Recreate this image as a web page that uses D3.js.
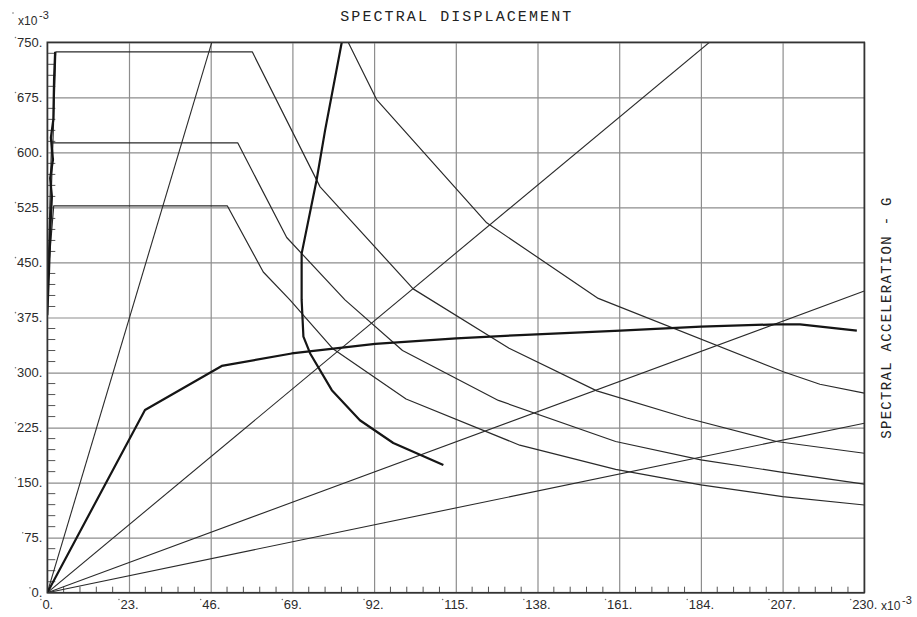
<!DOCTYPE html>
<html>
<head>
<meta charset="utf-8">
<script src="https://cdn.jsdelivr.net/npm/d3@7"></script>
<style>
  html, body { margin: 0; padding: 0; background: #fff; }
  svg { display: block; }
</style>
</head>
<body>
<div id="chart"></div>
<script>
// ── Data (units x10^-3) ──────────────────────────────────────────────────────

const xTicks = [0, 23, 46, 69, 92, 115, 138, 161, 184, 207, 230];
const yTicks = [0, 75, 150, 225, 300, 375, 450, 525, 600, 675, 750];

// constant-period lines, all from the origin to these ends
const periodEnds = [[46.3, 750], [186.4, 750], [230, 411], [230, 231]];

// demand spectra (thin)
const spectrumA = [[0, 378], [2.4, 737], [57.7, 737], [76.8, 553], [103, 414], [130, 333],
  [154.7, 275], [180, 238], [205.3, 206], [230, 190]];
const spectrumB = [[84.7, 750], [92.7, 672], [123.7, 504], [155.1, 401], [207.2, 301],
  [217.5, 284], [230, 272]];
const spectrumC = [[0, 400], [1.2, 613], [53.6, 613], [67.4, 484], [83.8, 399], [100, 330],
  [127, 262], [160, 206], [184, 181], [207, 164], [230, 148]];
const spectrumD = [[0, 420], [1.8, 527], [50.7, 527], [60.8, 437], [68.3, 399], [80.5, 332],
  [101, 264], [133, 201], [160, 168], [184, 147], [207, 131], [230, 119.5]];

// heavy curves
const capacityCurve = [[0, 0], [27.5, 249], [49.1, 309], [68.8, 326], [92.3, 339], [115.1, 346.6],
  [133, 351], [161.3, 357], [184, 362.5], [205.3, 365.7], [211.9, 365.7], [227.9, 357]];
const traceCurve = [[82.9, 750], [78.2, 630], [75.8, 562], [71.6, 462], [71.6, 399], [72.1, 349],
  [74, 326], [80.1, 276], [88, 235], [97.4, 204], [111.5, 174]];
const edgeCurve = [[0, 378], [0.5, 440], [0.9, 500], [1.3, 540], [0.8, 565], [1.6, 590],
  [1.0, 620], [1.7, 645], [1.9, 700], [2.2, 737]];

// ── Chart ────────────────────────────────────────────────────────────────────

const width = 917;
const height = 617;
const plot = { left: 47.3, right: 864.3, top: 42.3, bottom: 592.7 };
const labelFont = "'Liberation Sans', Arial, sans-serif";
const plotterFont = "'Liberation Mono', 'DejaVu Sans Mono', monospace";

const svg = d3.select("#chart").append("svg")
  .attr("width", width).attr("height", height);

const x = d3.scaleLinear().domain([0, 230]).range([plot.left, plot.right]);
const y = d3.scaleLinear().domain([0, 750]).range([plot.bottom, plot.top]);

const gridColor = "#8d8d8d";

// Grid + tick labels.
const xAxis = svg.append("g")
  .attr("transform", `translate(0,${plot.bottom})`)
  .call(d3.axisBottom(x).tickValues(xTicks).tickSize(-(plot.bottom - plot.top))
    .tickPadding(7).tickFormat((d) => d + "."));

const yAxis = svg.append("g")
  .attr("transform", `translate(${plot.left},0)`)
  .call(d3.axisLeft(y).tickValues(yTicks).tickSize(-(plot.right - plot.left))
    .tickPadding(5).tickFormat((d) => d + "."));

for (const ax of [xAxis, yAxis]) {
  ax.select(".domain").remove();
  ax.selectAll(".tick line").attr("stroke", gridColor).attr("stroke-width", 1.2);
  ax.selectAll(".tick text")
    .attr("fill", "#2b2b2b")
    .attr("font-size", "13px")
    .attr("font-family", labelFont);
  // little plotter dot in front of every label
  ax.selectAll(".tick text").each(function () {
    const b = this.getBBox();
    d3.select(this.parentNode).append("circle")
      .attr("cx", b.x - 1.5).attr("cy", b.y + 2.5).attr("r", 0.8).attr("fill", "#777");
  });
}

// Minor ticks (4 between each grid line).
const minor = svg.append("g").attr("stroke", "#555").attr("stroke-width", 1);
for (let i = 0; i < xTicks.length - 1; i++) {
  const step = (xTicks[i + 1] - xTicks[i]) / 5;
  for (let k = 1; k < 5; k++) {
    const v = xTicks[i] + k * step;
    minor.append("line")
      .attr("x1", x(v)).attr("x2", x(v))
      .attr("y1", plot.bottom).attr("y2", plot.bottom - 6);
  }
}
for (let i = 0; i < yTicks.length - 1; i++) {
  const step = (yTicks[i + 1] - yTicks[i]) / 5;
  for (let k = 1; k < 5; k++) {
    const v = yTicks[i] + k * step;
    minor.append("line")
      .attr("x1", plot.left).attr("x2", plot.left + 8)
      .attr("y1", y(v)).attr("y2", y(v));
  }
}

// Curves, clipped to the frame.
svg.append("clipPath").attr("id", "plot-clip")
  .append("rect")
  .attr("x", plot.left).attr("y", plot.top)
  .attr("width", plot.right - plot.left).attr("height", plot.bottom - plot.top);

const curves = svg.append("g").attr("clip-path", "url(#plot-clip)");
const line = d3.line().x((d) => x(d[0])).y((d) => y(d[1]));

for (const end of periodEnds) {
  curves.append("path")
    .attr("d", line([[0, 0], end]))
    .attr("fill", "none").attr("stroke", "#2a2a2a").attr("stroke-width", 1.1);
}

for (const s of [spectrumA, spectrumB, spectrumC, spectrumD]) {
  curves.append("path")
    .attr("d", line(s))
    .attr("fill", "none").attr("stroke", "#2a2a2a").attr("stroke-width", 1.2)
    .attr("stroke-linejoin", "round");
}

for (const s of [capacityCurve, traceCurve, edgeCurve]) {
  curves.append("path")
    .attr("d", line(s))
    .attr("fill", "none").attr("stroke", "#151515").attr("stroke-width", 2.2)
    .attr("stroke-linejoin", "round");
}

// Frame.
svg.append("rect")
  .attr("x", plot.left).attr("y", plot.top)
  .attr("width", plot.right - plot.left).attr("height", plot.bottom - plot.top)
  .attr("fill", "none").attr("stroke", "#333").attr("stroke-width", 1.6);

// ── Titles and scale markers ─────────────────────────────────────────────────

svg.append("text")
  .attr("x", (plot.left + plot.right) / 2 + 1).attr("y", 21)
  .attr("text-anchor", "middle")
  .attr("font-family", plotterFont).attr("font-size", "15px")
  .attr("letter-spacing", "2.1px").attr("fill", "#222")
  .text("SPECTRAL DISPLACEMENT");

svg.append("text")
  .attr("transform", `translate(891,${(plot.top + plot.bottom) / 2}) rotate(-90)`)
  .attr("text-anchor", "middle")
  .attr("font-family", plotterFont).attr("font-size", "14px")
  .attr("letter-spacing", "1.3px").attr("fill", "#222")
  .text("SPECTRAL ACCELERATION - G");

function scaleMarker(px, py) {
  const g = svg.append("g").attr("font-family", labelFont).attr("fill", "#2b2b2b");
  g.append("text").attr("x", px).attr("y", py).attr("font-size", "12px").text("x10");
  g.append("text").attr("x", px + 21).attr("y", py - 6).attr("font-size", "11px").text("-3");
}
scaleMarker(18, 25);
scaleMarker(881, 610);
svg.append("circle").attr("cx", 13).attr("cy", 13).attr("r", 0.8).attr("fill", "#777");
</script>
</body>
</html>
